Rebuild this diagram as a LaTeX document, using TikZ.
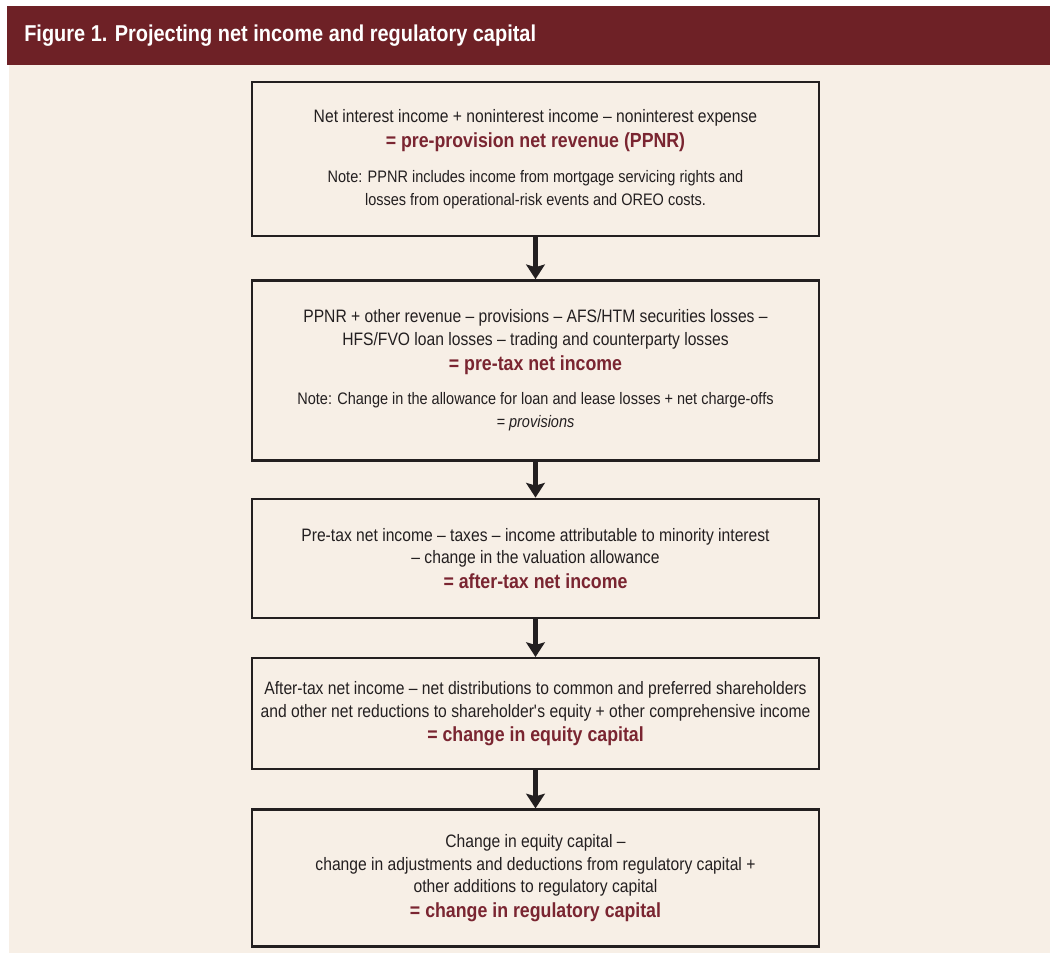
\documentclass[tikz,border=0pt]{standalone}
\usepackage{fontspec}
\setmainfont{Liberation Sans}[FakeStretch=0.87]
\usetikzlibrary{arrows.meta,positioning}
\definecolor{Claret}{HTML}{6E2126}
\definecolor{Parchment}{HTML}{F7EFE6}
\definecolor{Ink}{HTML}{231F20}
\definecolor{Wine}{HTML}{7A2531}
\newcommand\total[1]{{\color{Wine}\bfseries\fontsize{15.3}{18}\selectfont #1}}
\newcommand\remark{\fontsize{12.5}{16}\selectfont}

\begin{document}
\begin{tikzpicture}[x=0.75pt,y=-0.75pt,
    stage/.style={draw=Ink,line width=1.8pt,minimum width=425pt,inner sep=2pt,
      align=center,text=Ink,font=\fontsize{13.5}{17}\selectfont},
    flow/.style={draw=Ink,line width=3.8pt,-{Stealth[length=11pt,width=14pt,inset=2pt]}}
  ]
    \useasboundingbox[fill=white] (0,0) rectangle (1050,953);
    \fill[Parchment] (9,65) rectangle (1050,953);
    \fill[Claret] (7,6) rectangle (1050,65);
    \node[anchor=base west,inner sep=0pt,text=white,font=\bfseries\fontsize{17.2}{20}\selectfont] (title) at (24,41) {Figure 1. Projecting net income and regulatory capital};

    \node[stage,minimum height=115.5pt] (ppnr) at (535.5,159) {Net interest income + noninterest income -- noninterest expense\\[2pt]
      \total{= pre-provision net revenue (PPNR)}\\[9pt]
      {\remark Note: PPNR includes income from mortgage servicing rights and}\\
      {\remark losses from operational-risk events and OREO costs.}};
    \node[stage,minimum height=135pt,below=31.5pt of ppnr] (pretax) {PPNR + other revenue -- provisions -- AFS/HTM securities losses --\\
      HFS/FVO loan losses -- trading and counterparty losses\\[1.5pt]
      \total{= pre-tax net income}\\[9pt]
      {\remark Note: Change in the allowance for loan and lease losses + net charge-offs}\\
      {\remark\itshape = provisions}};
    \node[stage,minimum height=89.25pt,below=27pt of pretax] (aftertax) {Pre-tax net income -- taxes -- income attributable to minority interest\\
      -- change in the valuation allowance\\[1.5pt]
      \total{= after-tax net income}};
    \node[stage,minimum height=83.25pt,below=28.5pt of aftertax] (equity) {After-tax net income -- net distributions to common and preferred shareholders\\
      and other net reductions to shareholder\textquotesingle s equity + other comprehensive income\\[1.5pt]
      \total{= change in equity capital}};
    \node[stage,minimum height=102.75pt,below=28.5pt of equity] (regcap) {Change in equity capital --\\
      change in adjustments and deductions from regulatory capital +\\
      other additions to regulatory capital\\[1.5pt]
      \total{= change in regulatory capital}};

    \draw[flow] (ppnr) -- (pretax);
    \draw[flow] (pretax) -- (aftertax);
    \draw[flow] (aftertax) -- (equity);
    \draw[flow] (equity) -- (regcap);
  \end{tikzpicture}
\end{document}
